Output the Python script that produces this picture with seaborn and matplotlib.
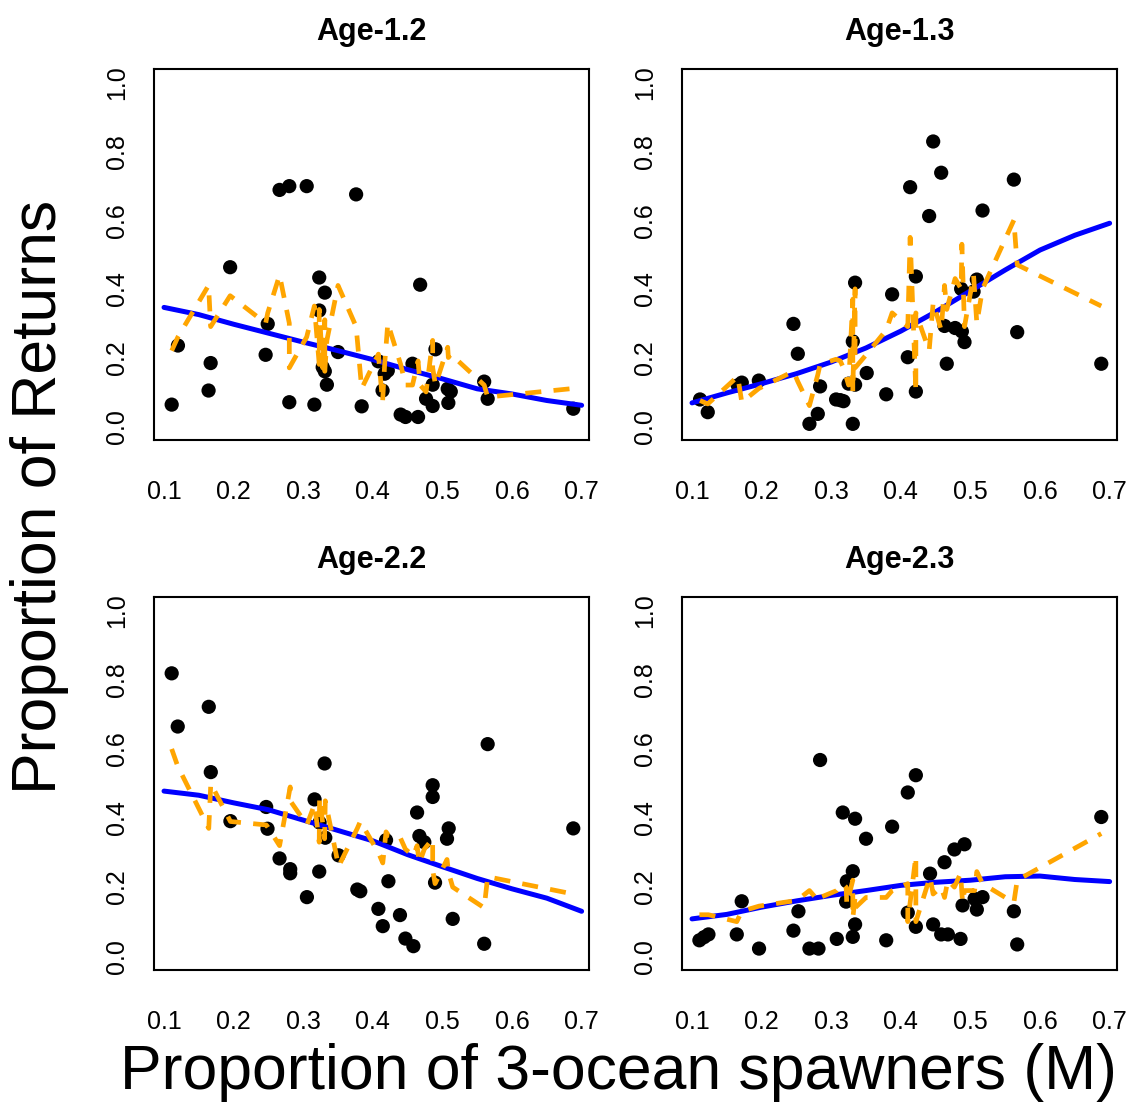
import matplotlib
matplotlib.use("Agg")
import matplotlib.pyplot as plt
import seaborn as sns

sns.set_style("white")
plt.rcParams['font.family'] = ['Liberation Sans', 'DejaVu Sans']
plt.rcParams['text.color'] = 'black'
plt.rcParams['axes.labelcolor'] = 'black'
plt.rcParams['xtick.color'] = 'black'
plt.rcParams['ytick.color'] = 'black'

titles = ["Age-1.2", "Age-1.3", "Age-2.2", "Age-2.3"]
x_ticks = [0.1, 0.2, 0.3, 0.4, 0.5, 0.6, 0.7]
y_ticks = [0.0, 0.2, 0.4, 0.6, 0.8, 1.0]
x_label = "Proportion of 3-ocean spawners (M)"
y_label = "Proportion of Returns"

# ---- Age-1.2 ----
x_12 = [0.111, 0.120, 0.164, 0.167, 0.195, 0.246, 0.249, 0.266, 0.280, 0.280,
        0.305, 0.316, 0.323, 0.323, 0.328, 0.331, 0.331, 0.334, 0.350, 0.376,
        0.384, 0.408, 0.414, 0.417, 0.4215, 0.440, 0.447, 0.457, 0.465, 0.468,
        0.4765, 0.486, 0.486, 0.490, 0.5076, 0.5085, 0.512, 0.560, 0.565, 0.688]
obs_12 = [0.063, 0.235, 0.104, 0.184, 0.463, 0.208, 0.298, 0.688, 0.699, 0.070,
          0.699, 0.063, 0.433, 0.337, 0.172, 0.389, 0.160, 0.121, 0.216, 0.675,
          0.058, 0.189, 0.104, 0.153, 0.162, 0.034, 0.027, 0.182, 0.027, 0.412,
          0.080, 0.059, 0.121, 0.224, 0.109, 0.068, 0.101, 0.130, 0.080, 0.051]
fit_12 = [0.22, 0.26, 0.41, 0.29, 0.38, 0.30, 0.33, 0.44, 0.30, 0.17,
          0.26, 0.35, 0.18, 0.34, 0.17, 0.31, 0.16, 0.25, 0.41, 0.29,
          0.11, 0.21, 0.07, 0.18, 0.30, 0.18, 0.12, 0.12, 0.19, 0.12,
          0.10, 0.25, 0.17, 0.12, 0.23, 0.20, 0.21, 0.12, 0.085, 0.11]

# ---- Age-1.3 ----
x_13 = [0.1115, 0.1226, 0.1657, 0.1715, 0.196, 0.2457, 0.252, 0.2687, 0.2807, 0.284,
        0.307, 0.313, 0.3176, 0.325, 0.331, 0.331, 0.3343, 0.3343, 0.351, 0.379,
        0.3875, 0.410, 0.4134, 0.4216, 0.4216, 0.4407, 0.4465, 0.458, 0.4628, 0.466,
        0.478, 0.4867, 0.4877, 0.4915, 0.5045, 0.5092, 0.5174, 0.5624, 0.5672, 0.688]
obs_13 = [0.078, 0.041, 0.119, 0.127, 0.133, 0.298, 0.211, 0.007, 0.036, 0.116,
          0.078, 0.076, 0.073, 0.124, 0.247, 0.007, 0.121, 0.418, 0.155, 0.093,
          0.384, 0.201, 0.696, 0.101, 0.436, 0.612, 0.829, 0.738, 0.292, 0.182,
          0.286, 0.400, 0.276, 0.245, 0.392, 0.427, 0.628, 0.718, 0.274, 0.182]
fit_13 = [0.075, 0.065, 0.145, 0.07, 0.11, 0.16, 0.13, 0.06, 0.15, 0.18,
          0.195, 0.19, 0.17, 0.12, 0.37, 0.10, 0.40, 0.17, 0.21, 0.28,
          0.33, 0.29, 0.55, 0.10, 0.33, 0.22, 0.36, 0.28, 0.41, 0.34,
          0.43, 0.40, 0.53, 0.29, 0.44, 0.30, 0.40, 0.60, 0.47, 0.35]

# ---- Age-2.2 ----
x_22 = [0.111, 0.1197, 0.1643, 0.1672, 0.1954, 0.2468, 0.2487, 0.266, 0.2813, 0.2813,
        0.3053, 0.3163, 0.323, 0.3235, 0.3307, 0.3317, 0.3508, 0.3777, 0.382, 0.408,
        0.4143, 0.419, 0.4224, 0.439, 0.4468, 0.4583, 0.4636, 0.4669, 0.474, 0.486,
        0.486, 0.4894, 0.5066, 0.509, 0.5148, 0.560, 0.565, 0.688]
obs_22 = [0.819, 0.665, 0.722, 0.533, 0.391, 0.432, 0.369, 0.283, 0.252, 0.240,
          0.171, 0.454, 0.245, 0.387, 0.558, 0.343, 0.292, 0.193, 0.188, 0.137,
          0.087, 0.336, 0.217, 0.119, 0.051, 0.029, 0.416, 0.348, 0.330, 0.495,
          0.461, 0.213, 0.340, 0.370, 0.108, 0.036, 0.614, 0.370]
fit_22 = [0.60, 0.55, 0.37, 0.50, 0.39, 0.38, 0.375, 0.32, 0.49, 0.45,
          0.38, 0.44, 0.33, 0.46, 0.34, 0.45, 0.26, 0.37, 0.39, 0.30,
          0.27, 0.36, 0.35, 0.345, 0.31, 0.29, 0.32, 0.27, 0.31, 0.34,
          0.25, 0.21, 0.28, 0.24, 0.20, 0.14, 0.23, 0.18]

# ---- Age-2.3 ----
x_23 = [0.1106, 0.1172, 0.1236, 0.1643, 0.1714, 0.1963, 0.2457, 0.2529, 0.2687, 0.2817,
        0.284, 0.308, 0.3166, 0.3214, 0.3224, 0.331, 0.331, 0.3343, 0.3343, 0.350,
        0.379, 0.3875, 0.410, 0.410, 0.4216, 0.4216, 0.442, 0.4464, 0.458, 0.4628,
        0.4676, 0.477, 0.4858, 0.4887, 0.4915, 0.506, 0.5092, 0.5174, 0.5624, 0.5672, 0.688]
obs_23 = [0.046, 0.055, 0.063, 0.063, 0.159, 0.022, 0.074, 0.130, 0.022, 0.022,
          0.568, 0.050, 0.416, 0.158, 0.217, 0.246, 0.056, 0.398, 0.092, 0.340,
          0.046, 0.375, 0.474, 0.126, 0.524, 0.085, 0.239, 0.092, 0.063, 0.272,
          0.063, 0.309, 0.050, 0.147, 0.324, 0.166, 0.135, 0.171, 0.130, 0.034, 0.403]
fit_23 = [0.12, 0.12, 0.12, 0.10, 0.13, 0.145, 0.16, 0.165, 0.19, 0.16,
          0.17, 0.19, 0.21, 0.20, 0.15, 0.22, 0.11, 0.17, 0.14, 0.17,
          0.17, 0.19, 0.21, 0.10, 0.29, 0.10, 0.23, 0.18, 0.20, 0.17,
          0.22, 0.20, 0.24, 0.155, 0.19, 0.19, 0.245, 0.21, 0.155, 0.22, 0.355]

# ---- smooth trend (blue) ----
smooth_x = [0.10, 0.15, 0.20, 0.25, 0.30, 0.35, 0.40, 0.45, 0.50, 0.55, 0.60, 0.65, 0.70]
smooth_12 = [0.346, 0.325, 0.297, 0.271, 0.245, 0.220, 0.194, 0.165, 0.138, 0.109, 0.094, 0.075, 0.061]
smooth_13 = [0.068, 0.097, 0.124, 0.153, 0.187, 0.228, 0.277, 0.333, 0.394, 0.455, 0.513, 0.556, 0.591]
smooth_22 = [0.478, 0.466, 0.444, 0.424, 0.394, 0.364, 0.334, 0.294, 0.259, 0.225, 0.195, 0.168, 0.130]
smooth_23 = [0.108, 0.121, 0.142, 0.160, 0.176, 0.190, 0.205, 0.214, 0.220, 0.230, 0.232, 0.222, 0.216]

panels = [
    (titles[0], x_12, obs_12, fit_12, smooth_12),
    (titles[1], x_13, obs_13, fit_13, smooth_13),
    (titles[2], x_22, obs_22, fit_22, smooth_22),
    (titles[3], x_23, obs_23, fit_23, smooth_23),
]

W, H = 1131, 1107
fig = plt.figure(figsize=(W / 100, H / 100), dpi=100)
fig.patch.set_facecolor("white")

boxes = [(154, 69, 589, 440), (682, 69, 1117, 440),
         (154, 597, 589, 970), (682, 597, 1117, 970)]

for (title, xs, ys, fit, sm), (l, t, r, b) in zip(panels, boxes):
    ax = fig.add_axes([l / W, 1 - b / H, (r - l) / W, (b - t) / H])
    ax.set_facecolor("white")
    sns.scatterplot(x=xs, y=ys, ax=ax, color="black", s=105, marker="o",
                    edgecolor="none", linewidth=0, zorder=3, legend=False)
    sns.lineplot(x=smooth_x, y=sm, ax=ax, color="#0000FF", linewidth=3.6,
                 estimator=None, sort=False, zorder=4, legend=False)
    sns.lineplot(x=xs, y=fit, ax=ax, color="#FFA500", linewidth=3.4,
                 estimator=None, sort=False, zorder=5, legend=False,
                 linestyle=(0, (3.4, 2.6)))
    ax.set_xlim(0.0856, 0.7106)
    ax.set_ylim(-0.04, 1.04)
    ax.set_xticks(x_ticks)
    ax.set_xticklabels([f"{v:.1f}" for v in x_ticks])
    ax.set_yticks(y_ticks)
    ax.set_yticklabels([f"{v:.1f}" for v in y_ticks], rotation=90, va="center")
    ax.tick_params(axis="both", direction="out", length=9, width=1.5,
                   labelsize=18, colors="black")
    ax.tick_params(axis="x", pad=20)
    ax.tick_params(axis="y", pad=9)
    for sp in ax.spines.values():
        sp.set_visible(True)
        sp.set_color("black")
        sp.set_linewidth(1.5)
    ax.set_xlabel("")
    ax.set_ylabel("")
    ax.set_title(title, fontsize=22, fontweight="bold", pad=21, color="black")

fig.text(40 / W, 1 - 497 / H, y_label, rotation=90, fontsize=45,
         ha="center", va="center", color="black")
fig.text(618 / W, 1 - 1072 / H, x_label, fontsize=45, ha="center", va="center",
         color="black")

fig.savefig("out.png", dpi=100, facecolor="white")
